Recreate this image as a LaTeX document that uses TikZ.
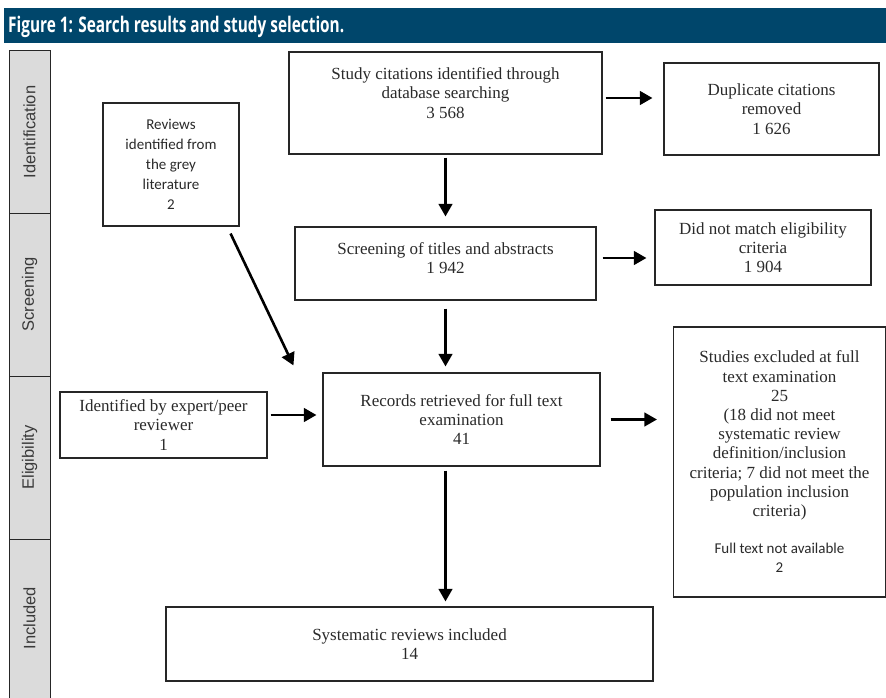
\documentclass[tikz,border=0pt]{standalone}
\usepackage{fontspec}
\usepackage{graphicx}
\setmainfont{Liberation Serif}
\newfontfamily\calfont{Carlito}
\newfontfamily\arialfont{Liberation Sans}
\newfontfamily\headfont{Open Sans}
\usetikzlibrary{arrows.meta}
\definecolor{hdr}{HTML}{00466B}
\definecolor{txtgray}{HTML}{2A2A2A}
\definecolor{sidefill}{HTML}{DBDBDB}
\definecolor{sidetxt}{HTML}{3A3A3A}
\begin{document}
\begin{tikzpicture}[x=1pt,y=-1pt,
  bx/.style={draw=black!85, line width=1.1pt, align=center, text=txtgray,
    font=\fontsize{17}{19.2}\selectfont, inner sep=0pt},
  calbx/.style={bx, font=\calfont\fontsize{15}{20}\selectfont},
  side/.style={draw=black!85, line width=1pt, fill=sidefill},
  sidelbl/.style={rotate=90, text=sidetxt, font=\arialfont\fontsize{16.5}{18}\selectfont},
  arr/.style={line width=2.6pt, -{Triangle[length=12.5pt,width=13.5pt]}},
  hdrtext/.style={text=white, anchor=west, inner sep=0pt}]
\useasboundingbox (0,0) rectangle (886,698);
\fill[white] (0,0) rectangle (886,698);
% header
\fill[hdr] (4,8) rectangle (886,43.5);
\node[hdrtext] (title) at (8,27) {\resizebox{336pt}{\height}{\headfont\bfseries\fontsize{21.5}{24}\selectfont Figure 1: Search results and study selection.}};
% side column
\node[side, minimum width=41pt, minimum height=162pt, inner sep=0pt] (sid) at (29.5,132) {};
\node[side, minimum width=41pt, minimum height=163pt, inner sep=0pt] (sscr) at (29.5,294.5) {};
\node[side, minimum width=41pt, minimum height=163pt, inner sep=0pt] (selig) at (29.5,457.5) {};
\node[side, minimum width=41pt, minimum height=162pt, inner sep=0pt] (sinc) at (29.5,620) {};
\node[sidelbl] (lid) at (sid) {Identification};
\node[sidelbl] (lscr) at (sscr) {Screening};
\node[sidelbl] (lelig) at (selig) {Eligibility};
\node[sidelbl] (linc) at ([yshift=2pt]sinc) {Included};
% boxes
\node[bx, minimum width=313pt, minimum height=102pt] (study) at (445.5,103)
  {Study citations identified through\\database searching\\3 568\\[1pt]\mbox{}};
\node[bx, minimum width=215pt, minimum height=92pt] (dup) at (771.5,109)
  {Duplicate citations\\removed\\1 626};
\node[bx, minimum width=301pt, minimum height=73pt] (screen) at (445.5,263.5)
  {Screening of titles and abstracts\\1 942\\[-8pt]\mbox{}};
\node[bx, minimum width=216pt, minimum height=75pt] (didnot) at (763,247.5)
  {Did not match eligibility\\criteria\\1 904};
\node[calbx, minimum width=136pt, minimum height=123pt] (grey) at (171,164.5)
  {Reviews\\identified from\\the grey\\literature\\2};
\node[bx, minimum width=207pt, minimum height=66pt] (expert) at (163.5,425)
  {Identified by expert/peer\\reviewer\\1};
\node[bx, minimum width=277pt, minimum height=93pt] (records) at (461.5,419.5)
  {Records retrieved for full text\\examination\\41};
\node[bx, minimum width=212pt, minimum height=270pt] (excl) at (779.5,462)
  {Studies excluded at full\\text examination\\25\\(18 did not meet\\systematic review\\definition/inclusion\\criteria; 7 did not meet the\\population inclusion\\criteria)\\[18pt]
   {\calfont\fontsize{15}{19.2}\selectfont Full text not available}\\{\calfont\fontsize{15}{19.2}\selectfont 2}};
\node[bx, minimum width=487pt, minimum height=74pt] (sys) at (409.5,644)
  {Systematic reviews included\\14};
% connectors
\draw[arr, shorten <=3pt, shorten >=10pt] (study.south) -- (study.south |- screen.north);
\draw[arr, shorten <=8pt, shorten >=6pt] (screen.south) -- (screen.south |- records.north);
\draw[arr, shorten <=4pt, shorten >=5pt] (screen.south |- records.south) -- (screen.south |- sys.north);
\draw[arr, shorten <=3pt, shorten >=11pt] ([yshift=5pt]study.east) -- ([yshift=5pt]study.east -| dup.west);
\draw[arr, shorten <=6pt, shorten >=8pt] ([yshift=5.5pt]screen.east) -- ([yshift=5.5pt]screen.east -| didnot.west);
\draw[arr, shorten <=10pt, shorten >=16pt] (records.east) -- (records.east -| excl.west);
\draw[arr, shorten <=3pt, shorten >=6pt] ([yshift=10pt]expert.east) -- ([yshift=10pt]expert.east -| records.west);
\draw[arr] ([xshift=-9pt,yshift=-7pt]grey.south east) -- ([xshift=-29pt,yshift=7pt]records.north west);
\end{tikzpicture}
\end{document}
